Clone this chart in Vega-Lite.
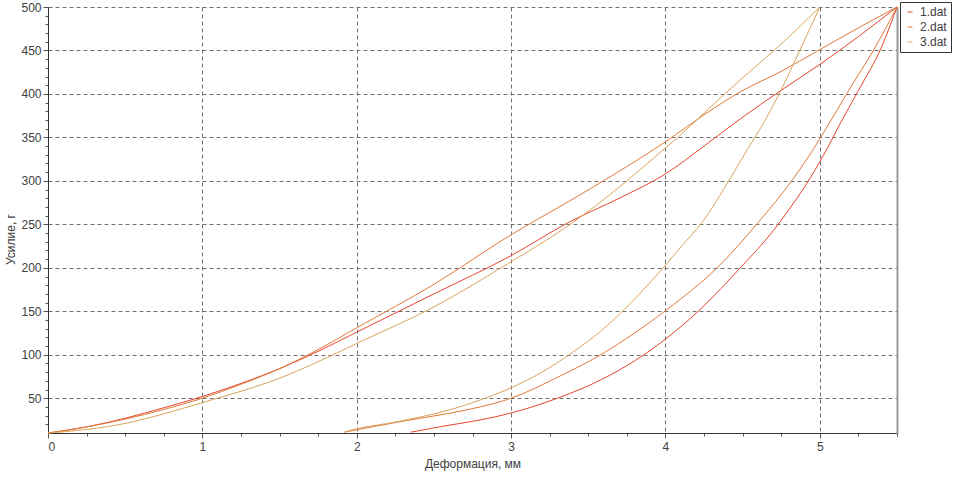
{
  "$schema": "https://vega.github.io/schema/vega-lite/v6.json",
  "width": 849,
  "height": 426,
  "autosize": "none",
  "padding": {"left": 48, "top": 7, "right": 56, "bottom": 50},
  "background": "white",
  "config": {
    "view": {"stroke": null},
    "font": "Liberation Sans",
    "axis": {
      "labelFont": "Liberation Sans",
      "titleFont": "Liberation Sans",
      "labelFontSize": 12,
      "titleFontSize": 12,
      "titleFontWeight": "normal",
      "labelColor": "#404040",
      "titleColor": "#404040",
      "domainColor": "#333333",
      "tickColor": "#555555",
      "gridColor": "#707070",
      "gridDash": [4, 3],
      "gridWidth": 1
    },
    "legend": {
      "labelFont": "Liberation Sans",
      "labelFontSize": 12,
      "labelColor": "#404040"
    }
  },
  "data": {
    "values": [
      {"s": "1.dat", "b": "load", "x": 0, "y": 10},
      {"s": "1.dat", "b": "load", "x": 0.25, "y": 17},
      {"s": "1.dat", "b": "load", "x": 0.5, "y": 27},
      {"s": "1.dat", "b": "load", "x": 0.75, "y": 39},
      {"s": "1.dat", "b": "load", "x": 1, "y": 52},
      {"s": "1.dat", "b": "load", "x": 1.25, "y": 67},
      {"s": "1.dat", "b": "load", "x": 1.5, "y": 84},
      {"s": "1.dat", "b": "load", "x": 1.75, "y": 104},
      {"s": "1.dat", "b": "load", "x": 2, "y": 126},
      {"s": "1.dat", "b": "load", "x": 2.5, "y": 170},
      {"s": "1.dat", "b": "load", "x": 3, "y": 214},
      {"s": "1.dat", "b": "load", "x": 3.37, "y": 252},
      {"s": "1.dat", "b": "load", "x": 3.7, "y": 280},
      {"s": "1.dat", "b": "load", "x": 4, "y": 308},
      {"s": "1.dat", "b": "load", "x": 4.25, "y": 340},
      {"s": "1.dat", "b": "load", "x": 4.49, "y": 372},
      {"s": "1.dat", "b": "load", "x": 4.74, "y": 403},
      {"s": "1.dat", "b": "load", "x": 5, "y": 434},
      {"s": "1.dat", "b": "load", "x": 5.25, "y": 466},
      {"s": "1.dat", "b": "load", "x": 5.5, "y": 500},
      {"s": "1.dat", "b": "unload", "x": 5.5, "y": 500},
      {"s": "1.dat", "b": "unload", "x": 5.4, "y": 454},
      {"s": "1.dat", "b": "unload", "x": 5.25, "y": 404},
      {"s": "1.dat", "b": "unload", "x": 5.12, "y": 362},
      {"s": "1.dat", "b": "unload", "x": 5.05, "y": 338},
      {"s": "1.dat", "b": "unload", "x": 4.94, "y": 304},
      {"s": "1.dat", "b": "unload", "x": 4.8, "y": 267},
      {"s": "1.dat", "b": "unload", "x": 4.7, "y": 243},
      {"s": "1.dat", "b": "unload", "x": 4.49, "y": 201},
      {"s": "1.dat", "b": "unload", "x": 4.23, "y": 153},
      {"s": "1.dat", "b": "unload", "x": 4.0, "y": 118},
      {"s": "1.dat", "b": "unload", "x": 3.8, "y": 93},
      {"s": "1.dat", "b": "unload", "x": 3.58, "y": 71},
      {"s": "1.dat", "b": "unload", "x": 3.3, "y": 50},
      {"s": "1.dat", "b": "unload", "x": 3.0, "y": 33},
      {"s": "1.dat", "b": "unload", "x": 2.8, "y": 25},
      {"s": "1.dat", "b": "unload", "x": 2.6, "y": 19},
      {"s": "1.dat", "b": "unload", "x": 2.35, "y": 11},
      {"s": "2.dat", "b": "load", "x": 0, "y": 10},
      {"s": "2.dat", "b": "load", "x": 0.25, "y": 17},
      {"s": "2.dat", "b": "load", "x": 0.5, "y": 26},
      {"s": "2.dat", "b": "load", "x": 0.75, "y": 37},
      {"s": "2.dat", "b": "load", "x": 1, "y": 50},
      {"s": "2.dat", "b": "load", "x": 1.25, "y": 66},
      {"s": "2.dat", "b": "load", "x": 1.5, "y": 84},
      {"s": "2.dat", "b": "load", "x": 1.75, "y": 106},
      {"s": "2.dat", "b": "load", "x": 2, "y": 131},
      {"s": "2.dat", "b": "load", "x": 2.5, "y": 181},
      {"s": "2.dat", "b": "load", "x": 3, "y": 238},
      {"s": "2.dat", "b": "load", "x": 3.37, "y": 276},
      {"s": "2.dat", "b": "load", "x": 3.7, "y": 311},
      {"s": "2.dat", "b": "load", "x": 4, "y": 345},
      {"s": "2.dat", "b": "load", "x": 4.25, "y": 376},
      {"s": "2.dat", "b": "load", "x": 4.49, "y": 403},
      {"s": "2.dat", "b": "load", "x": 4.75, "y": 426},
      {"s": "2.dat", "b": "load", "x": 5, "y": 451},
      {"s": "2.dat", "b": "load", "x": 5.25, "y": 476},
      {"s": "2.dat", "b": "load", "x": 5.5, "y": 500},
      {"s": "2.dat", "b": "unload", "x": 5.5, "y": 500},
      {"s": "2.dat", "b": "unload", "x": 5.35, "y": 451},
      {"s": "2.dat", "b": "unload", "x": 5.18, "y": 402},
      {"s": "2.dat", "b": "unload", "x": 5.04, "y": 360},
      {"s": "2.dat", "b": "unload", "x": 4.96, "y": 337},
      {"s": "2.dat", "b": "unload", "x": 4.83, "y": 303},
      {"s": "2.dat", "b": "unload", "x": 4.6, "y": 252},
      {"s": "2.dat", "b": "unload", "x": 4.34, "y": 201},
      {"s": "2.dat", "b": "unload", "x": 4.01, "y": 152},
      {"s": "2.dat", "b": "unload", "x": 3.8, "y": 125},
      {"s": "2.dat", "b": "unload", "x": 3.58, "y": 100},
      {"s": "2.dat", "b": "unload", "x": 3.3, "y": 74},
      {"s": "2.dat", "b": "unload", "x": 3.0, "y": 50},
      {"s": "2.dat", "b": "unload", "x": 2.8, "y": 40},
      {"s": "2.dat", "b": "unload", "x": 2.61, "y": 33},
      {"s": "2.dat", "b": "unload", "x": 2.28, "y": 23},
      {"s": "2.dat", "b": "unload", "x": 2.1, "y": 17},
      {"s": "2.dat", "b": "unload", "x": 1.92, "y": 11},
      {"s": "3.dat", "b": "load", "x": 0, "y": 10},
      {"s": "3.dat", "b": "load", "x": 0.25, "y": 14},
      {"s": "3.dat", "b": "load", "x": 0.5, "y": 21},
      {"s": "3.dat", "b": "load", "x": 0.75, "y": 32},
      {"s": "3.dat", "b": "load", "x": 1, "y": 45},
      {"s": "3.dat", "b": "load", "x": 1.25, "y": 58},
      {"s": "3.dat", "b": "load", "x": 1.5, "y": 73},
      {"s": "3.dat", "b": "load", "x": 1.75, "y": 92},
      {"s": "3.dat", "b": "load", "x": 2, "y": 113},
      {"s": "3.dat", "b": "load", "x": 2.5, "y": 155},
      {"s": "3.dat", "b": "load", "x": 3, "y": 207},
      {"s": "3.dat", "b": "load", "x": 3.3, "y": 240},
      {"s": "3.dat", "b": "load", "x": 3.5, "y": 265},
      {"s": "3.dat", "b": "load", "x": 3.75, "y": 300},
      {"s": "3.dat", "b": "load", "x": 4, "y": 338},
      {"s": "3.dat", "b": "load", "x": 4.08, "y": 350},
      {"s": "3.dat", "b": "load", "x": 4.25, "y": 378},
      {"s": "3.dat", "b": "load", "x": 4.49, "y": 417},
      {"s": "3.dat", "b": "load", "x": 4.71, "y": 451},
      {"s": "3.dat", "b": "load", "x": 5, "y": 500},
      {"s": "3.dat", "b": "unload", "x": 5, "y": 500},
      {"s": "3.dat", "b": "unload", "x": 4.87, "y": 450},
      {"s": "3.dat", "b": "unload", "x": 4.75, "y": 405},
      {"s": "3.dat", "b": "unload", "x": 4.64, "y": 368},
      {"s": "3.dat", "b": "unload", "x": 4.53, "y": 336},
      {"s": "3.dat", "b": "unload", "x": 4.42, "y": 303},
      {"s": "3.dat", "b": "unload", "x": 4.24, "y": 253},
      {"s": "3.dat", "b": "unload", "x": 4.1, "y": 224},
      {"s": "3.dat", "b": "unload", "x": 4.0, "y": 203},
      {"s": "3.dat", "b": "unload", "x": 3.9, "y": 183},
      {"s": "3.dat", "b": "unload", "x": 3.75, "y": 155},
      {"s": "3.dat", "b": "unload", "x": 3.58, "y": 127},
      {"s": "3.dat", "b": "unload", "x": 3.4, "y": 103},
      {"s": "3.dat", "b": "unload", "x": 3.2, "y": 80},
      {"s": "3.dat", "b": "unload", "x": 3.0, "y": 62},
      {"s": "3.dat", "b": "unload", "x": 2.8, "y": 48},
      {"s": "3.dat", "b": "unload", "x": 2.61, "y": 37},
      {"s": "3.dat", "b": "unload", "x": 2.4, "y": 28},
      {"s": "3.dat", "b": "unload", "x": 2.2, "y": 21},
      {"s": "3.dat", "b": "unload", "x": 2.0, "y": 15},
      {"s": "3.dat", "b": "unload", "x": 1.92, "y": 11}
    ]
  },
  "resolve": {
    "scale": {"x": "shared", "y": "shared"},
    "axis": {"x": "independent", "y": "independent"}
  },
  "layer": [
    {
      "mark": {"type": "point", "opacity": 0},
      "encoding": {
        "x": {
          "field": "x", "type": "quantitative",
          "scale": {"domain": [0, 5.5], "nice": false, "zero": false},
          "axis": {
            "orient": "bottom",
            "values": [0.25, 0.5, 0.75, 1.25, 1.5, 1.75, 2.25, 2.5, 2.75, 3.25, 3.5, 3.75, 4.25, 4.5, 4.75, 5.25, 5.5],
            "labels": false, "grid": false, "domain": false, "tickSize": 3, "title": null
          }
        },
        "y": {
          "field": "y", "type": "quantitative",
          "scale": {"domain": [10, 500], "nice": false, "zero": false},
          "axis": {
            "orient": "left",
            "values": [20, 30, 40, 60, 70, 80, 90, 110, 120, 130, 140, 160, 170, 180, 190, 210, 220, 230, 240, 260, 270, 280, 290, 310, 320, 330, 340, 360, 370, 380, 390, 410, 420, 430, 440, 460, 470, 480, 490],
            "labels": false, "grid": false, "domain": false, "tickSize": 3, "title": null
          }
        }
      }
    },
    {
      "mark": {"type": "point", "opacity": 0},
      "encoding": {
        "x": {"field": "x", "type": "quantitative", "axis": null},
        "y": {
          "field": "y", "type": "quantitative",
          "axis": {"orient": "right", "labels": false, "ticks": false, "grid": false, "title": null, "domainColor": "#999999", "domainWidth": 2}
        }
      }
    },
    {
      "mark": {"type": "line", "strokeWidth": 1, "interpolate": "monotone"},
      "encoding": {
        "x": {
          "field": "x", "type": "quantitative",
          "axis": {
            "orient": "bottom",
            "values": [0, 1, 2, 3, 4, 5],
            "gridValues": [1, 2, 3, 4, 5],
            "grid": true, "tickSize": 5, "labelPadding": 3,
            "title": "Деформация, мм", "titlePadding": 6
          }
        },
        "y": {
          "field": "y", "type": "quantitative",
          "axis": {
            "orient": "left",
            "values": [50, 100, 150, 200, 250, 300, 350, 400, 450, 500],
            "grid": true, "tickSize": 5, "labelPadding": 2,
            "title": "Усилие, г", "titlePadding": 3, "titleY": 232
          }
        },
        "detail": {"field": "b"},
        "color": {
          "field": "s", "type": "nominal",
          "scale": {"domain": ["1.dat", "2.dat", "3.dat"], "range": ["#e5452f", "#e07a38", "#d8a45c"]},
          "legend": {
            "title": null,
            "orient": "none",
            "legendX": 852,
            "legendY": -5,
            "strokeColor": "#333333",
            "fillColor": "white",
            "padding": 4,
            "symbolType": "stroke",
            "symbolSize": 25,
            "symbolStrokeWidth": 1,
            "rowPadding": 3,
            "labelOffset": 4
          }
        }
      }
    }
  ]
}
